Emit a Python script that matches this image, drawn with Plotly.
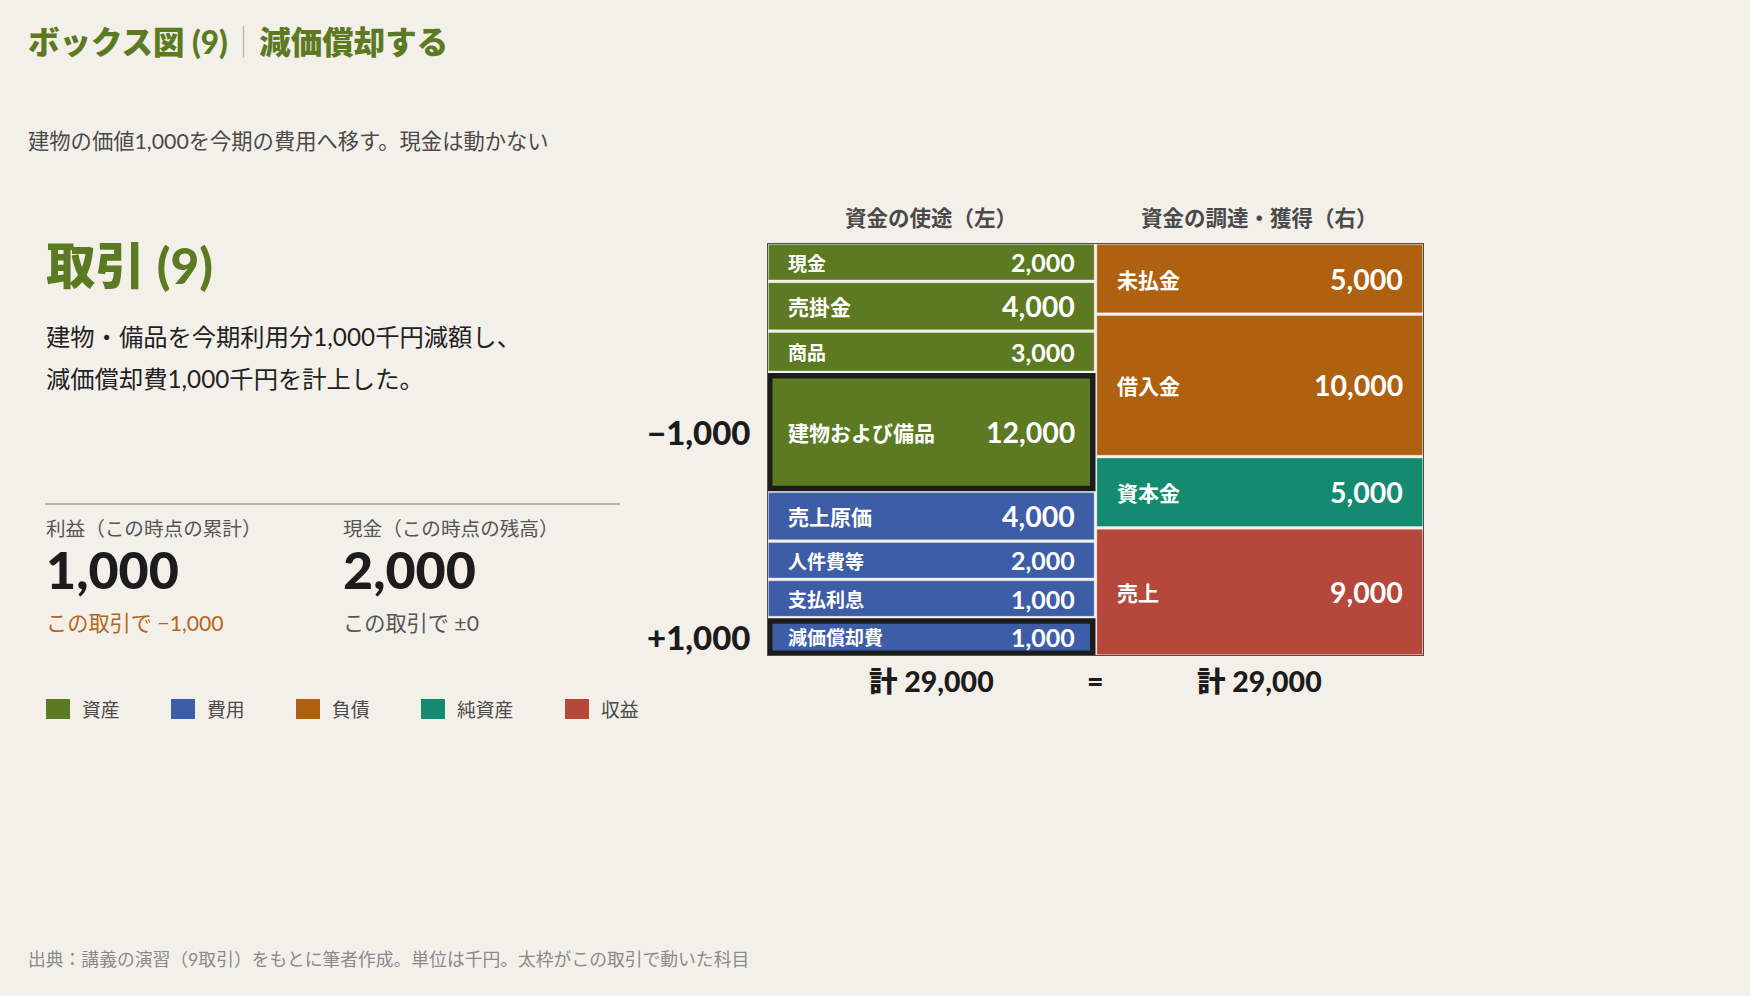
import plotly.graph_objects as go

# ---------------- data ----------------
left_labels = ["現金", "売掛金", "商品", "建物および備品", "売上原価", "人件費等", "支払利息", "減価償却費"]
left_values = [2000, 4000, 3000, 12000, 4000, 2000, 1000, 1000]
left_kinds = ["資産", "資産", "資産", "資産", "費用", "費用", "費用", "費用"]

right_labels = ["未払金", "借入金", "資本金", "売上"]
right_values = [5000, 10000, 5000, 9000]
right_kinds = ["負債", "負債", "純資産", "収益"]

moved_accounts = ["建物および備品", "減価償却費"]
moved_amounts = [-1000, 1000]
cash_change = 0

kind_names = ["資産", "費用", "負債", "純資産", "収益"]
kind_colors = ["#5b7a21", "#3e5da7", "#b0610f", "#148a71", "#b5473b"]

title_main = "ボックス図 (9)"
title_sub = "減価償却する"
subtitle = "建物の価値1,000を今期の費用へ移す。現金は動かない"
deal_title = "取引 (9)"
deal_lines = ["建物・備品を今期利用分1,000千円減額し、", "減価償却費1,000千円を計上した。"]
stat_labels = ["利益（この時点の累計）", "現金（この時点の残高）"]
col_headers = ["資金の使途（左）", "資金の調達・獲得（右）"]
footer = "出典：講義の演習（9取引）をもとに筆者作成。単位は千円。太枠がこの取引で動いた科目"

# ---------------- styling ----------------
W, H = 1750, 996
BG = "#f3f0e9"
JP = "'Noto Sans CJK JP', 'Noto Sans', sans-serif"
NUM = "Lato, 'Noto Sans CJK JP', sans-serif"
GREEN = kind_colors[0]
DARK = "#1c1c1c"
GRAY = "#4a4a4a"
color_of = dict(zip(kind_names, kind_colors))


def fmt(v, sign=False):
    s = f"{abs(v):,}"
    if v < 0:
        return "\u2212" + s
    if sign:
        return ("+" + s) if v > 0 else "±0"
    return s


def px(x):
    return x / W


def py(y):
    return 1 - y / H


# box geometry (pixels)
BX0, BX1, BY0, BY1 = 767, 1424, 243, 656
total_left = sum(left_values)
total_right = sum(right_values)
TOTAL = max(total_left, total_right)
uy = TOTAL / (BY1 - BY0)      # data units per pixel (vertical)
ux = 2.0 / (BX1 - BX0)        # data units per pixel (horizontal)

# left column: rows get a floor height so small accounts stay readable
BASE, FLOOR = 1780, 4440
disp = [max(v + BASE, FLOOR) for v in left_values]
left_slots = [d * total_left / sum(disp) for d in disp]
right_slots = list(right_values)

fig = go.Figure()
shapes = []
annotations = []
GAP = 1.35
FRAME = 5.5

profit = sum(v for v, k in zip(right_values, right_kinds) if k == "収益") - \
    sum(v for v, k in zip(left_values, left_kinds) if k == "費用")
cash = left_values[left_labels.index("現金")]
profit_change = 0
for a, m in zip(moved_accounts, moved_amounts):
    if a in left_labels and left_kinds[left_labels.index(a)] == "費用":
        profit_change -= m
    if a in right_labels and right_kinds[right_labels.index(a)] == "収益":
        profit_change += m

centers_x, centers_y = [], []


def draw_column(col, slots, labels, values, kinds):
    y = 0.0
    for slot, lab, val, kind in zip(slots, labels, values, kinds):
        y0, y1 = y, y + slot
        x0, x1 = col, col + 1
        h_px = slot / uy
        col_fill = color_of[kind]
        if lab in moved_accounts:
            shapes.append(dict(type="rect", xref="x", yref="y", x0=x0, x1=x1, y0=y0 + 0.6 * uy, y1=y1,
                               fillcolor=DARK, line=dict(width=0), layer="above"))
            shapes.append(dict(type="rect", xref="x", yref="y",
                               x0=x0 + FRAME * ux, x1=x1 - FRAME * ux,
                               y0=y0 + (FRAME + 0.6) * uy, y1=y1 - FRAME * uy,
                               fillcolor=col_fill, line=dict(width=0), layer="above"))
        else:
            shapes.append(dict(type="rect", xref="x", yref="y",
                               x0=x0 + GAP * ux, x1=x1 - GAP * ux,
                               y0=y0 + GAP * uy, y1=y1 - GAP * uy,
                               fillcolor=col_fill, line=dict(width=1, color="rgba(255,255,255,0.35)"),
                               layer="above"))
        tall = h_px >= 45
        lab_size = 21 if tall else 19
        val_size = 28.5 if tall else 25
        yc = (y0 + y1) / 2
        centers_x.append(col + 0.5)
        centers_y.append(yc)
        annotations.append(dict(x=x0, y=yc, xref="x", yref="y", xanchor="left", yanchor="middle",
                                xshift=20, text=lab, showarrow=False, borderpad=0,
                                font=dict(family=JP, size=lab_size, color="white", weight=700)))
        annotations.append(dict(x=x1, y=yc, xref="x", yref="y", xanchor="right", yanchor="middle",
                                xshift=-20, text=fmt(val), showarrow=False, borderpad=0,
                                font=dict(family=NUM, size=val_size, color="white", weight=700)))
        if lab in moved_accounts:
            amt = moved_amounts[moved_accounts.index(lab)]
            annotations.append(dict(x=0, y=yc, xref="x", yref="y", xanchor="right", yanchor="middle",
                                    xshift=-14, text=fmt(amt, sign=True), showarrow=False,
                                    font=dict(family=NUM, size=33, color=DARK, weight=900)))
        y = y1


draw_column(0, left_slots, left_labels, left_values, left_kinds)
draw_column(1, right_slots, right_labels, right_values, right_kinds)

# outer frame
shapes.append(dict(type="rect", xref="x", yref="y", x0=0, x1=2, y0=0, y1=TOTAL,
                   line=dict(color="#4d4d4d", width=2), fillcolor="rgba(0,0,0,0)", layer="above"))

# invisible trace anchoring the box axes
fig.add_trace(go.Scatter(x=centers_x, y=centers_y, mode="markers", marker=dict(opacity=0),
                         hoverinfo="skip", showlegend=False))

# column headers and totals
for i, hdr in enumerate(col_headers):
    annotations.append(dict(x=i + 0.5, y=0, xref="x", yref="y", yanchor="middle", xanchor="center",
                            yshift=27, text=hdr, showarrow=False,
                            font=dict(family=JP, size=21.5, color=GRAY, weight=700)))
for i, t in enumerate([total_left, total_right]):
    annotations.append(dict(x=i + 0.5, y=TOTAL, xref="x", yref="y", yanchor="middle", xanchor="center",
                            yshift=-25, text="計 " + fmt(t), showarrow=False,
                            font=dict(family=NUM, size=28.5, color=DARK, weight=900)))
annotations.append(dict(x=1, y=TOTAL, xref="x", yref="y", yanchor="middle", xanchor="center",
                        yshift=-25, text="=" if total_left == total_right else "≠", showarrow=False,
                        font=dict(family=NUM, size=28.5, color=DARK, weight=900)))


# ---------------- left text panel ----------------
def txt(x, y, text, size, color, weight=400, family=NUM, anchor="left"):
    annotations.append(dict(x=px(x), y=py(y), xref="paper", yref="paper", xanchor=anchor,
                            yanchor="middle", text=text, showarrow=False, borderpad=0,
                            font=dict(family=family, size=size, color=color, weight=weight)))


txt(27, 42.5, f"{title_main}<span style='color:#b5b5a8;font-weight:300'>｜</span>{title_sub}", 31.5, GREEN, 900)
txt(27, 141, subtitle, 21.3, GRAY, 400)
txt(45, 265, deal_title, 49.5, GREEN, 900)
for i, line in enumerate(deal_lines):
    txt(45, 336 + 42 * i, line, 24.3, "#222222", 400)

shapes.append(dict(type="line", xref="paper", yref="paper", x0=px(45), x1=px(620), y0=py(504), y1=py(504),
                   line=dict(color="#b3b7a6", width=2)))

stat_x = [45, 342]
txt(stat_x[0], 528, stat_labels[0], 19.6, "#555555", 400)
txt(stat_x[1], 528, stat_labels[1], 19.6, "#555555", 400)
txt(stat_x[0], 569, fmt(profit), 52, DARK, 900)
txt(stat_x[1], 569, fmt(cash), 52, DARK, 900)
pc_color = "#b5651d" if profit_change != 0 else "#555555"
cc_color = "#b5651d" if cash_change != 0 else "#555555"
txt(stat_x[0], 623, "この取引で " + fmt(profit_change, sign=True), 21.2, pc_color, 400)
txt(stat_x[1], 623, "この取引で " + fmt(cash_change, sign=True), 21.2, cc_color, 400)

# legend
lx = 46
for name, col in zip(kind_names, kind_colors):
    shapes.append(dict(type="rect", xref="paper", yref="paper", x0=px(lx), x1=px(lx + 24),
                       y0=py(719), y1=py(699), fillcolor=col, line=dict(width=0)))
    txt(lx + 35, 709, name, 18.8, GRAY, 400)
    lx = lx + 35 + 19 * len(name) + 52

txt(27, 959, footer, 17.8, "#8a8a8a", 400)

fig.update_layout(
    width=W, height=H, autosize=False,
    margin=dict(l=0, r=0, t=0, b=0),
    paper_bgcolor=BG, plot_bgcolor="rgba(0,0,0,0)",
    showlegend=False,
    xaxis=dict(domain=[px(BX0), px(BX1)], range=[0, 2], visible=False, fixedrange=True),
    yaxis=dict(domain=[py(BY1), py(BY0)], range=[TOTAL, 0], visible=False, fixedrange=True),
    shapes=shapes,
    annotations=annotations,
)

fig.write_html("out.html", include_plotlyjs=True, full_html=True,
               config={"displayModeBar": False, "staticPlot": True},
               post_script="document.body.style.margin='0';document.body.style.overflow='hidden';")
